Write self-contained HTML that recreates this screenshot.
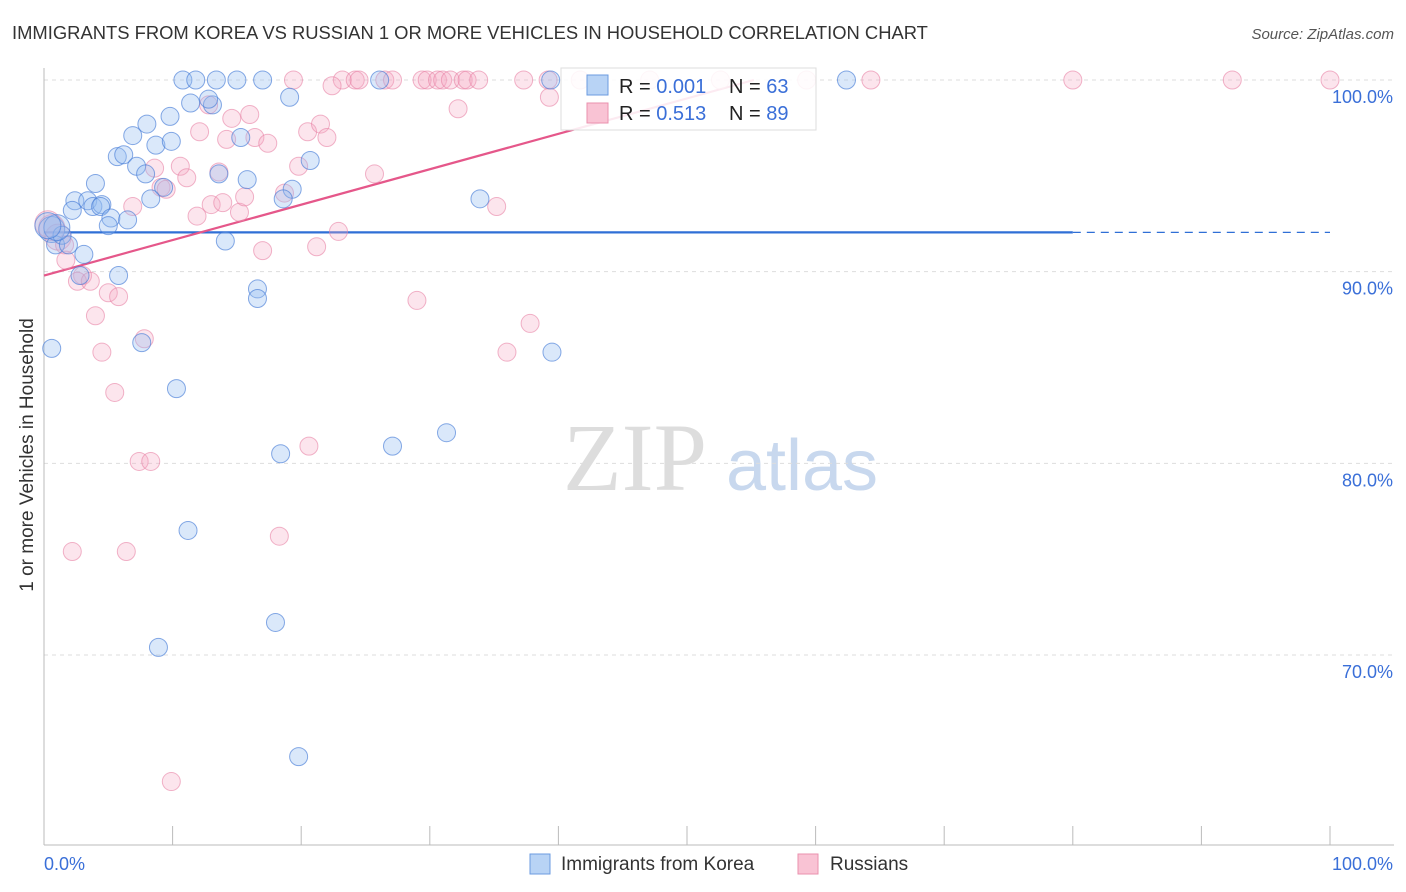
<!DOCTYPE html>
<html><head><meta charset="utf-8"><style>
body{margin:0;background:#fff;font-family:"Liberation Sans",sans-serif;}
svg{display:block}
</style></head><body>
<svg id="chart" width="1406" height="892">
<text x="12" y="39" font-size="18.4" fill="#333">IMMIGRANTS FROM KOREA VS RUSSIAN 1 OR MORE VEHICLES IN HOUSEHOLD CORRELATION CHART</text>
<text x="1394" y="39" font-size="15" fill="#555" font-style="italic" text-anchor="end">Source: ZipAtlas.com</text>
<text x="33" y="455" font-size="19" fill="#333" text-anchor="middle" transform="rotate(-90 33 455)">1 or more Vehicles in Household</text>
<g><text x="635" y="490" font-size="96" font-family="Liberation Serif,serif" fill="#ddd" text-anchor="middle">ZIP</text><text x="802" y="490" font-size="72" fill="#c8d8ee" text-anchor="middle">atlas</text></g>
<g id="grid"></g><g id="axes"></g><g id="lines"></g><g id="pts"></g>
<g>
<rect x="561" y="68" width="255" height="62" fill="rgba(255,255,255,0.88)" stroke="#ddd"/>
<rect x="587" y="75" width="21" height="20" fill="#b8d3f5" stroke="#6b9be0"/>
<rect x="587" y="103" width="21" height="20" fill="#f9c3d4" stroke="#ea90ae"/>
<text x="619" y="93" font-size="20" fill="#222">R = <tspan fill="#3a6fd8">0.001</tspan></text>
<text x="729" y="93" font-size="20" fill="#222">N = <tspan fill="#3a6fd8">63</tspan></text>
<text x="619" y="120" font-size="20" fill="#222">R = <tspan fill="#3a6fd8"> 0.513</tspan></text>
<text x="729" y="120" font-size="20" fill="#222">N = <tspan fill="#3a6fd8">89</tspan></text>
</g>
<g>
<rect x="530" y="854" width="20" height="20" fill="#b8d3f5" stroke="#6b9be0"/>
<text x="561" y="870" font-size="19" fill="#333">Immigrants from Korea</text>
<rect x="798" y="854" width="20" height="20" fill="#f9c3d4" stroke="#ea90ae"/>
<text x="830" y="870" font-size="19" fill="#333">Russians</text>
</g>
</svg>
<script>
const yTicks=[100,90,80,70];
const xTickCount=10;
const koreaX=[10.8,11.8,13.4,15,17,26.1,39.4,62.4,11.4,13.1,12.8,19.1,9.8,8,6.9,8.7,9.9,5.7,6.2,7.2,7.9,15.3,20.7,4,13.6,15.8,19.3,18.6,9.3,8.3,2.4,3.4,2.2,3.8,4.5,4.4,5.2,5,6.5,14.1,33.9,0.6,0.9,1.4,1.9,3.1,2.8,5.8,0.6,7.6,16.6,16.6,10.3,18.4,27.1,31.3,39.5,11.2,18,8.9,19.8,1,0.3];
const koreaY=[100,100,100,100,100,100,100,100,98.8,98.7,99,99.1,98.1,97.7,97.1,96.6,96.8,96,96.1,95.5,95.1,97,95.8,94.6,95.1,94.8,94.3,93.8,94.4,93.8,93.7,93.7,93.2,93.4,93.5,93.4,92.8,92.4,92.7,91.6,93.8,92.2,91.4,91.9,91.4,90.9,89.8,89.8,86.0,86.3,89.1,88.6,83.9,80.5,80.9,81.6,85.8,76.5,71.7,70.4,64.7,92.3,92.4];
const russX=[19.4,23.2,24.2,24.5,26.5,27.1,29.4,29.8,30.6,31,31.6,32.6,32.9,33.8,37.3,39.2,41.7,47.1,52.6,59.3,64.3,80,92.4,100,22.4,39.3,32.2,12.8,16,14.6,12.1,14.2,16.4,17.4,20.5,21.5,22,10.6,11.1,13.6,19.8,25.7,8.6,9.1,9.5,6.9,11.9,13,13.9,15.2,15.6,18.7,21.2,17,22.9,35.2,0.6,0.3,1.1,1.6,1.7,3,2.6,3.6,5,5.8,4,7.8,4.5,29,37.8,36,5.5,7.4,8.3,20.6,2.2,6.4,18.3,9.9];
const russY=[100,100,100,100,100,100,100,100,100,100,100,100,100,100,100,100,100,100,100,100,100,100,100,100,99.7,99.1,98.5,98.7,98.2,98,97.3,96.9,97,96.7,97.3,97.7,97,95.5,94.9,95.2,95.5,95.1,95.4,94.4,94.3,93.4,92.9,93.5,93.6,93.1,93.9,94.1,91.3,91.1,92.1,93.4,92.3,92.5,91.8,91.4,90.6,89.8,89.5,89.5,88.9,88.7,87.7,86.5,85.8,88.5,87.3,85.8,83.7,80.1,80.1,80.9,75.4,75.4,76.2,63.4];
const koreaTrend=[92.0,92.0];
const russTrend=[89.8,100];
const russTrendEndX=55.2;
const L=44,R=1330,T=80,B=845,Y0=60.09;
const sx=v=>L+(R-L)*v/100, sy=v=>T+(100-v)*(B-T)/(100-Y0);
const NS='http://www.w3.org/2000/svg';
function mk(tag,attrs,parent){const e=document.createElementNS(NS,tag);for(const k in attrs)e.setAttribute(k,attrs[k]);document.getElementById(parent).appendChild(e);return e;}
yTicks.forEach((t,i)=>{
 const g=mk('line',{x1:L,x2:1394,y1:sy(t),y2:sy(t),stroke:'#ddd','stroke-dasharray':'4,4'},'grid');
 
 
 const tx=mk('text',{x:1393,y:sy(t)+23,'font-size':18,fill:'#3a6fd8','text-anchor':'end'},'grid');
 tx.textContent=t.toFixed(1)+'%';
 
 
});
const ax=mk('line',{x1:L,x2:L,y1:68,y2:B,stroke:'#bbb'},'axes');


const bx=mk('line',{x1:L,x2:1394,y1:B,y2:B,stroke:'#bbb'},'axes');


for(let i=0;i<=xTickCount;i++){
 const tk=mk('line',{x1:sx(i*10),x2:sx(i*10),y1:826,y2:B,stroke:'#bbb'},'axes');
 
 
}
const x0=mk('text',{x:44,y:870,'font-size':18,fill:'#3a6fd8'},'axes');x0.textContent='0.0%';


const x1=mk('text',{x:1393,y:870,'font-size':18,fill:'#3a6fd8','text-anchor':'end'},'axes');x1.textContent='100.0%';


function pts(xs,ys,fill,stroke,name){
 xs.forEach((x,i)=>{
  const big=(x<1.2&&ys[i]<93&&ys[i]>91.5);
  const c=mk('circle',{cx:sx(x),cy:sy(ys[i]),r:big?13:9,fill:fill,stroke:stroke,'stroke-width':1},'pts');
  
  
 });
}
pts(russX,russY,'rgba(246,170,196,0.3)','rgba(232,130,165,0.6)','russians-point');
pts(koreaX,koreaY,'rgba(150,190,240,0.35)','rgba(70,125,215,0.65)','korea-point');
const kl=mk('line',{x1:sx(0),x2:sx(80),y1:sy(koreaTrend[0])-1,y2:sy(koreaTrend[1])-1,stroke:'#2f6fd6','stroke-width':2.2},'lines');


const kd=mk('line',{x1:sx(80),x2:sx(100),y1:sy(koreaTrend[1])-1,y2:sy(koreaTrend[1])-1,stroke:'#2f6fd6','stroke-width':1.2,'stroke-dasharray':'8,6'},'lines');


const rl=mk('line',{x1:sx(0),x2:sx(russTrendEndX),y1:sy(russTrend[0]),y2:sy(russTrend[1]),stroke:'#e5578a','stroke-width':2.2},'lines');


</script>
</body></html>
